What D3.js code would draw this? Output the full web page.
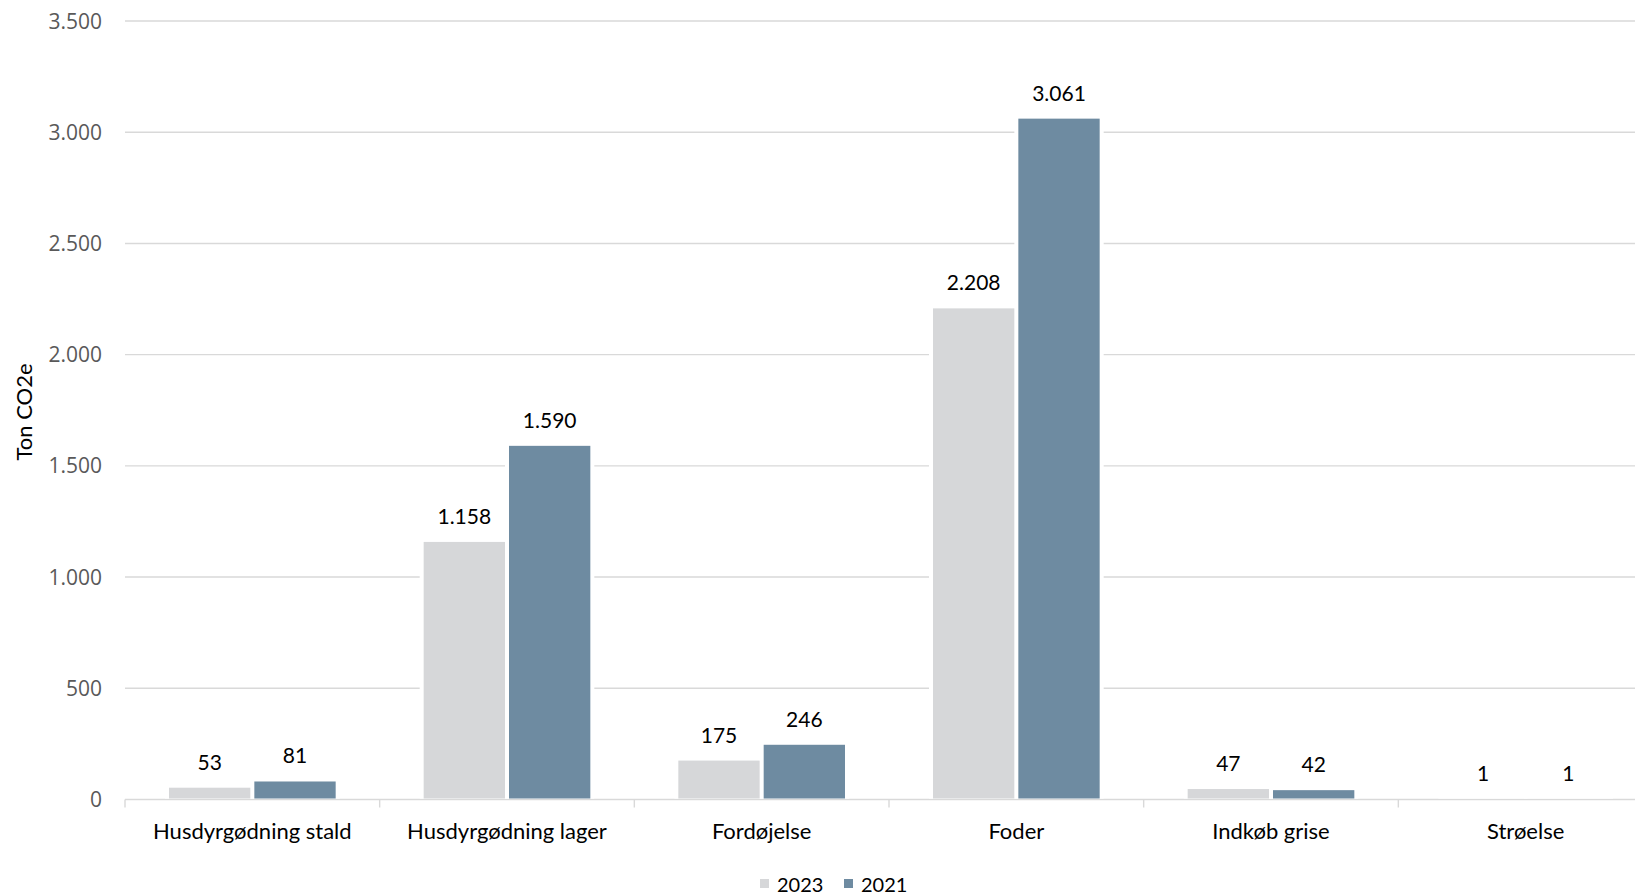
<!DOCTYPE html>
<html>
<head>
<meta charset="utf-8">
<script src="https://cdn.jsdelivr.net/npm/d3@7"></script>
<style>
  html, body { margin: 0; padding: 0; background: #fff; }
  svg { display: block; }
</style>
</head>
<body>
<svg id="chart" width="1635" height="896"></svg>
<script>
// Emissions by source, tonnes CO2e
const categories = ["Husdyrgødning stald", "Husdyrgødning lager", "Fordøjelse", "Foder", "Indkøb grise", "Strøelse"];
const seriesNames = ["2023", "2021"];
const values2023 = [53, 1158, 175, 2208, 47, 1];
const values2021 = [81, 1590, 246, 3061, 42, 1];
const yTicks = [0, 500, 1000, 1500, 2000, 2500, 3000, 3500];
const colors = { "2023": "#d6d7d9", "2021": "#6e8ba1" };

const fmt = v => d3.format(",")(v).replace(/,/g, ".");

const svg = d3.select("#chart");
const plotLeft = 125, plotRight = 1653, plotTop = 21, plotBottom = 799.5;

const x = d3.scaleBand().domain(categories).range([plotLeft, plotRight]).paddingInner(0).paddingOuter(0);
const xSeries = d3.scaleBand().domain(seriesNames).range([44, x.bandwidth() - 44]).paddingInner(0.047);
const y = d3.scaleLinear().domain([0, 3500]).range([plotBottom, plotTop]);

const rows = categories.map((c, i) => ({ cat: c, vals: [
  { key: "2023", v: values2023[i] },
  { key: "2021", v: values2021[i] }
]}));

// horizontal gridlines
svg.append("g").selectAll("line").data(yTicks.filter(t => t > 0)).join("line")
  .attr("x1", plotLeft).attr("x2", 1635)
  .attr("y1", d => y(d)).attr("y2", d => y(d))
  .attr("stroke", "#d9d9d9").attr("stroke-width", 1.4);

// y tick labels
svg.append("g").selectAll("text").data(yTicks).join("text")
  .attr("x", 102).attr("y", d => y(d))
  .attr("dy", "0.36em")
  .attr("text-anchor", "end")
  .attr("font-family", "'Open Sans', sans-serif").attr("font-size", 21)
  .attr("fill", "#595959")
  .text(fmt);

// x axis line and category boundary ticks
svg.append("line").attr("x1", plotLeft).attr("x2", 1635).attr("y1", plotBottom).attr("y2", plotBottom)
  .attr("stroke", "#d9d9d9").attr("stroke-width", 1.4);
svg.append("g").selectAll("line").data(categories).join("line")
  .attr("x1", d => x(d)).attr("x2", d => x(d))
  .attr("y1", plotBottom).attr("y2", plotBottom + 8)
  .attr("stroke", "#d9d9d9").attr("stroke-width", 1.4);

const groups = svg.append("g").selectAll("g").data(rows).join("g")
  .attr("transform", d => `translate(${x(d.cat)},0)`);

// white halo behind bars that breaks the gridlines
groups.selectAll("rect.halo").data(d => d.vals).join("rect").attr("class", "halo")
  .attr("x", d => xSeries(d.key) - 4)
  .attr("width", xSeries.bandwidth() + 8)
  .attr("y", d => y(d.v) - 4)
  .attr("height", d => plotBottom - y(d.v) + 3)
  .attr("fill", "#fff");

groups.selectAll("rect.bar").data(d => d.vals).join("rect").attr("class", "bar")
  .attr("x", d => xSeries(d.key))
  .attr("width", xSeries.bandwidth())
  .attr("y", d => y(d.v))
  .attr("height", d => Math.max(0, plotBottom - 1 - y(d.v)))
  .attr("fill", d => colors[d.key]);

// value labels
groups.selectAll("text.val").data(d => d.vals).join("text").attr("class", "val")
  .attr("x", d => xSeries(d.key) + xSeries.bandwidth() / 2)
  .attr("y", d => y(d.v) - 18)
  .attr("text-anchor", "middle")
  .attr("font-family", "Lato, sans-serif").attr("font-size", 21)
  .attr("fill", "#000")
  .text(d => fmt(d.v));

// category labels
svg.append("g").selectAll("text").data(categories).join("text")
  .attr("x", d => x(d) + x.bandwidth() / 2)
  .attr("y", 839)
  .attr("text-anchor", "middle")
  .attr("font-family", "Lato, sans-serif").attr("font-size", 22)
  .attr("fill", "#000")
  .text(d => d);

// y axis title
svg.append("text")
  .attr("transform", "translate(32,412) rotate(-90)")
  .attr("text-anchor", "middle")
  .attr("font-family", "Lato, sans-serif").attr("font-size", 22)
  .attr("fill", "#000")
  .text("Ton CO2e");

// legend
const legendItems = [{ key: "2023", x: 760 }, { key: "2021", x: 844 }];
const lg = svg.append("g").selectAll("g").data(legendItems).join("g")
  .attr("transform", d => `translate(${d.x},0)`);
lg.append("rect").attr("x", 0).attr("y", 879).attr("width", 9).attr("height", 9)
  .attr("fill", d => colors[d.key]);
lg.append("text").attr("x", 17).attr("y", 892)
  .attr("font-family", "Lato, sans-serif").attr("font-size", 20)
  .attr("fill", "#000")
  .text(d => d.key);
</script>
</body>
</html>
